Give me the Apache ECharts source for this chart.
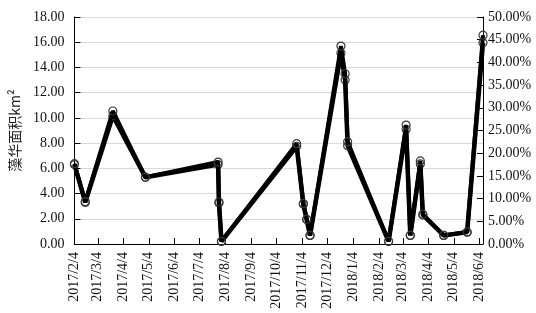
<!DOCTYPE html>
<html>
<head>
<meta charset="utf-8">
<script src="https://cdn.jsdelivr.net/npm/echarts@6/dist/echarts.min.js"></script>
<style>
  * { margin: 0; padding: 0; }
  body { background: #fff; }
  #chart { width: 536px; height: 313px; }
</style>
</head>
<body>
<div id="chart"></div>
<script>
// sampling dates
const dates = [
  "2017/2/4", "2017/2/17", "2017/3/22", "2017/4/30", "2017/7/26", "2017/7/27",
  "2017/7/30", "2017/10/28", "2017/11/5", "2017/11/9", "2017/11/13", "2017/12/20",
  "2017/12/25", "2017/12/28", "2018/2/15", "2018/3/8", "2018/3/13", "2018/3/25",
  "2018/3/28", "2018/4/22", "2018/5/20", "2018/6/8"
];
// bloom area, km2 (left axis)
const area = [
  6.3, 3.3, 10.17, 5.3, 6.3, 3.25, 0.2, 7.75, 3.15, 1.95, 0.68, 15.15,
  13.0, 7.8, 0.2, 9.1, 0.68, 6.35, 2.3, 0.68, 0.94, 15.95
];
// bloom area ratio, % (right axis)
const ratio = [
  17.7, 9.35, 29.3, 14.7, 18.05, 9.25, 0.6, 22.1, 8.9, 5.45, 1.9, 43.6,
  37.5, 22.5, 0.6, 26.2, 1.9, 18.3, 6.55, 1.9, 2.65, 46.0
];
const tickLabels = [
  "2017/2/4", "2017/3/4", "2017/4/4", "2017/5/4", "2017/6/4", "2017/7/4",
  "2017/8/4", "2017/9/4", "2017/10/4", "2017/11/4", "2017/12/4", "2018/1/4",
  "2018/2/4", "2018/3/4", "2018/4/4", "2018/5/4", "2018/6/4"
];
const xMin = "2017/2/4";
const xMax = "2018/6/8";

// dates as day numbers (UTC, so no DST drift)
function toDay(s) {
  const p = s.split("/").map(Number);
  return Date.UTC(p[0], p[1] - 1, p[2]) / 86400000;
}
function fmtDay(v) {
  const d = new Date(Math.round(v) * 86400000);
  return d.getUTCFullYear() + "/" + (d.getUTCMonth() + 1) + "/" + d.getUTCDate();
}

const tickDays = tickLabels.map(toDay);
const serif = "Liberation Serif";

const chart = echarts.init(document.getElementById("chart"), null, { renderer: "canvas" });

const marker = {
  color: "transparent",
  borderColor: "#3a3a3a",
  borderWidth: 1.2
};

const option = {
  backgroundColor: "#fff",
  animation: false,
  grid: { left: 70, right: 53, top: 17, bottom: 69 },
  xAxis: {
    type: "value",
    min: toDay(xMin),
    max: toDay(xMax),
    splitLine: { show: false },
    axisLine: { lineStyle: { color: "#000", width: 1 } },
    axisTick: { inside: true, length: 6, lineStyle: { color: "#000" }, customValues: tickDays },
    axisLabel: {
      customValues: tickDays,
      rotate: 90,
      margin: 8,
      fontFamily: serif,
      fontSize: 14,
      color: "#111",
      formatter: (v) => fmtDay(v)
    }
  },
  yAxis: [
    {
      type: "value",
      min: 0,
      max: 18,
      interval: 2,
      name: "藻华面积km²",
      nameLocation: "middle",
      nameRotate: 90,
      nameGap: 48,
      nameTextStyle: { fontFamily: "Noto Sans CJK SC", fontSize: 14, color: "#222" },
      axisLine: { show: true, lineStyle: { color: "#000" } },
      axisTick: { show: true, inside: true, length: 6, lineStyle: { color: "#000" } },
      splitLine: { lineStyle: { color: "#d9d9d9", width: 1 } },
      axisLabel: {
        margin: 10,
        fontFamily: serif,
        fontSize: 14,
        color: "#111",
        formatter: (v) => v.toFixed(2)
      }
    },
    {
      type: "value",
      min: 0,
      max: 50,
      interval: 5,
      position: "right",
      axisLine: { show: true, lineStyle: { color: "#000" } },
      axisTick: { show: true, inside: true, length: 6, lineStyle: { color: "#000" } },
      splitLine: { show: false },
      axisLabel: {
        margin: 5,
        fontFamily: serif,
        fontSize: 14,
        color: "#111",
        formatter: (v) => v.toFixed(2) + "%"
      }
    }
  ],
  series: [
    {
      name: "藻华面积",
      type: "line",
      yAxisIndex: 0,
      data: dates.map((d, i) => [toDay(d), area[i]]),
      lineStyle: { color: "#000", width: 4.5 },
      symbol: "circle",
      symbolSize: 8,
      itemStyle: marker,
      z: 2
    },
    {
      name: "占比",
      type: "line",
      yAxisIndex: 1,
      data: dates.map((d, i) => [toDay(d), ratio[i]]),
      lineStyle: { color: "#000", width: 4 },
      symbol: "circle",
      symbolSize: 8,
      itemStyle: marker,
      z: 3
    }
  ]
};

chart.setOption(option);
</script>
</body>
</html>
